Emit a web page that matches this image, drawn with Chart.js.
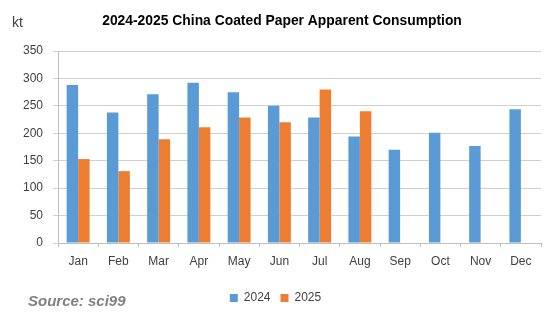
<!DOCTYPE html>
<html><head><meta charset="utf-8">
<script src="https://cdn.jsdelivr.net/npm/chart.js@4/dist/chart.umd.min.js"></script>
<style>html,body{margin:0;padding:0;background:#fff;}</style>
</head><body>
<canvas id="c" width="551" height="321"></canvas>
<script>
const months = ["Jan","Feb","Mar","Apr","May","Jun","Jul","Aug","Sep","Oct","Nov","Dec"];
const values2024 = [288, 238, 271, 292, 275, 250, 229, 194, 170, 201, 177, 244];
const values2025 = [153, 131, 189, 211, 229, 220, 280, 240, null, null, null, null];
const yTicks = [0, 50, 100, 150, 200, 250, 300, 350];
const titleText = "2024-2025 China Coated Paper Apparent Consumption";
const unitText = "kt";
const sourceText = "Source: sci99";

const FONT = "'Liberation Sans', Arial, sans-serif";

const extras = {
  id: 'extras',
  afterDraw(chart) {
    const ctx = chart.ctx;
    ctx.save();
    // title
    let size = 14;
    ctx.font = `bold ${size}px ${FONT}`;
    const w = ctx.measureText(titleText).width;
    size = size * 360 / w;
    ctx.font = `bold ${size}px ${FONT}`;
    ctx.fillStyle = '#000';
    ctx.textAlign = 'center';
    ctx.textBaseline = 'middle';
    ctx.fillText(titleText, 282, 21);
    // unit
    ctx.font = `14px ${FONT}`;
    ctx.fillStyle = '#404040';
    ctx.textAlign = 'left';
    ctx.fillText(unitText, 12, 23);
    // source
    ctx.font = `italic bold 15px ${FONT}`;
    ctx.fillStyle = '#808080';
    ctx.fillText(sourceText, 28, 302);
    ctx.restore();
  }
};

new Chart(document.getElementById('c'), {
  type: 'bar',
  data: {
    labels: months,
    datasets: [
      { label: '2024', data: values2024, backgroundColor: '#5B9BD5', borderWidth: 0 },
      { label: '2025', data: values2025, backgroundColor: '#ED7D31', borderWidth: 0 }
    ]
  },
  options: {
    responsive: false,
    animation: false,
    devicePixelRatio: 1,
    layout: { padding: { top: 51, left: 10, right: 10, bottom: 7 } },
    datasets: { bar: { categoryPercentage: 0.57, barPercentage: 1.0 } },
    plugins: {
      title: { display: false },
      tooltip: { enabled: false },
      legend: {
        position: 'bottom',
        labels: {
          boxWidth: 8, boxHeight: 8, padding: 10,
          color: '#404040',
          font: { family: FONT, size: 12 }
        }
      }
    },
    scales: {
      x: {
        afterFit(s) { s.height = 39; },
        grid: { display: true, drawOnChartArea: false, offset: true, tickLength: 4, color: '#bfbfbf' },
        border: { display: true, color: '#bfbfbf' },
        ticks: { color: '#404040', padding: 7, font: { family: FONT, size: 12 }, maxRotation: 0 }
      },
      y: {
        min: 0, max: 350,
        afterFit(s) { s.width = 48; },
        afterBuildTicks(s) { s.ticks = yTicks.map(v => ({ value: v })); },
        grid: { color: '#d0d0d0', tickLength: 5 },
        border: { display: true, color: '#bfbfbf' },
        ticks: { color: '#404040', padding: 10, font: { family: FONT, size: 12 } }
      }
    }
  },
  plugins: [extras]
});
</script>
</body></html>
